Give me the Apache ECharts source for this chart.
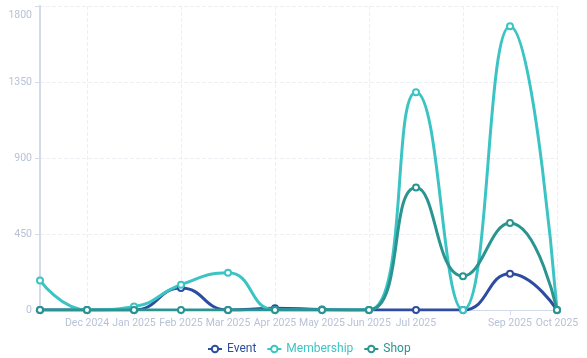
<!DOCTYPE html>
<html>
<head>
<meta charset="utf-8">
<script src="https://cdn.jsdelivr.net/npm/echarts@6/dist/echarts.min.js"></script>
<style>
  html, body { margin: 0; padding: 0; background: #ffffff; }
  #chart { width: 587px; height: 358px; }
</style>
</head>
<body>
<div id="chart"></div>
<script>
// Monthly totals by revenue channel
const months = ['Nov 2024', 'Dec 2024', 'Jan 2025', 'Feb 2025', 'Mar 2025', 'Apr 2025',
                'May 2025', 'Jun 2025', 'Jul 2025', 'Aug 2025', 'Sep 2025', 'Oct 2025'];
const eventValues      = [0, 0, 0, 130, 0, 10, 3, 0, 0, 0, 215, 0];
const membershipValues = [175, 0, 20, 150, 220, 0, 0, 0, 1290, 0, 1680, 0];
const shopValues       = [0, 0, 0, 0, 0, 0, 0, 0, 725, 200, 515, 0];
const yTicks = [0, 450, 900, 1350, 1800];
// month labels left out along the axis
const hiddenMonthLabels = ['Nov 2024', 'Aug 2025'];

const colors = { Event: '#2d4da0', Membership: '#3cc4c4', Shop: '#2a9490' };
const font = 'Roboto';
const yMax = yTicks[yTicks.length - 1];

function lineSeries(name, values) {
  return {
    name: name,
    type: 'line',
    smooth: true,
    data: values,
    symbol: 'emptyCircle',
    symbolSize: 6,
    lineStyle: { width: 3, color: colors[name] },
    itemStyle: { color: colors[name], borderWidth: 2 }
  };
}

const chart = echarts.init(document.getElementById('chart'), null, { renderer: 'canvas' });
chart.setOption({
  animation: false,
  color: [colors.Event, colors.Membership, colors.Shop],
  grid: { left: 40, right: 30, top: 6, bottom: 48, containLabel: false },
  legend: {
    top: 338,
    left: 202,
    itemWidth: 14,
    itemHeight: 8,
    itemGap: 10,
    textStyle: { fontFamily: font, fontSize: 12 },
    data: ['Event', 'Membership', 'Shop'].map(n => ({ name: n, textStyle: { color: colors[n] } }))
  },
  xAxis: {
    type: 'category',
    boundaryGap: false,
    data: months,
    axisLine: { lineStyle: { color: '#d3dbea' } },
    axisTick: { show: true, interval: 0, lineStyle: { color: '#d3dbea' } },
    axisLabel: {
      color: '#b8c2d6', fontFamily: font, fontSize: 10.5,
      hideOverlap: false,
      interval: (i, name) => hiddenMonthLabels.indexOf(name) < 0
    },
    splitLine: {
      show: true,
      interval: (i) => i % 2 === 1,
      lineStyle: { type: 'dashed', color: '#eceff4' }
    }
  },
  yAxis: {
    type: 'value',
    min: yTicks[0],
    max: yMax,
    interval: yTicks[1] - yTicks[0],
    axisLine: { show: true, lineStyle: { color: '#d3dbea', width: 2 } },
    axisTick: { show: true, lineStyle: { color: '#d3dbea' } },
    axisLabel: {
      color: '#b8c2d6', fontFamily: font, fontSize: 10.5,
      formatter: (v) => v === yMax ? '{top|' + v + '}' : String(v),
      rich: { top: { padding: [18, 0, 0, 0], color: '#b8c2d6', fontFamily: font, fontSize: 10.5 } }
    },
    splitLine: { show: true, lineStyle: { type: 'dashed', color: '#eceff4' } }
  },
  series: [
    lineSeries('Event', eventValues),
    lineSeries('Membership', membershipValues),
    lineSeries('Shop', shopValues)
  ]
});
</script>
</body>
</html>
